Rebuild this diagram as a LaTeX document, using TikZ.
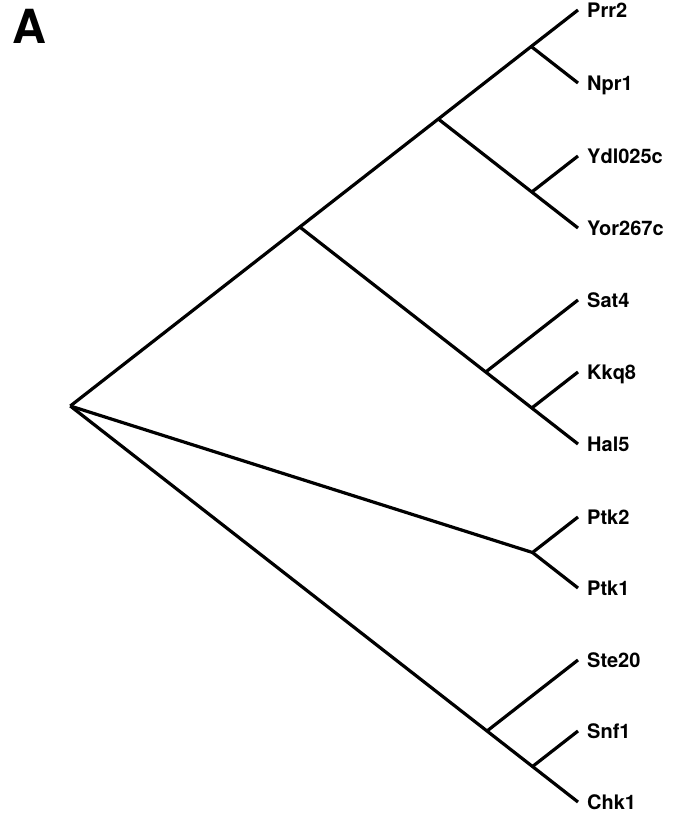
\documentclass[tikz,border=0pt]{standalone}
\usepackage{fontspec}
\setmainfont{TeX Gyre Heros}
\begin{document}
\begin{tikzpicture}[x=1pt, y=-1pt,
  branch/.style={line width=3.2pt, line join=round},
  taxon/.style={anchor=base west, inner sep=0pt,
    font=\fontsize{20}{20}\selectfont\bfseries},
  panel/.style={anchor=center, inner sep=0pt,
    font=\fontsize{47}{47}\selectfont\bfseries}]
\useasboundingbox (0,0) rectangle (676,817);

% panel letter
\node[panel] (panelA) at (29,26) {A};

% leaf tips
\coordinate (lPrr2)    at (578,10);
\coordinate (lNpr1)    at (578,83);
\coordinate (lYdl025c) at (578,156);
\coordinate (lYor267c) at (578,228);
\coordinate (lSat4)    at (578,300);
\coordinate (lKkq8)    at (578,372);
\coordinate (lHal5)    at (578,444);
\coordinate (lPtk2)    at (578,517);
\coordinate (lPtk1)    at (578,588);
\coordinate (lSte20)   at (578,660);
\coordinate (lSnf1)    at (578,731);
\coordinate (lChk1)    at (578,802);

% internal nodes
\coordinate (root)  at (70.3,406);
\coordinate (ntop)  at (299.8,227);
\coordinate (n1234) at (438.3,119);
\coordinate (n12)   at (531.2,46.5);
\coordinate (n34)   at (531.8,192);
\coordinate (n567)  at (485.7,372);
\coordinate (n67)   at (531.8,408);
\coordinate (nptk)  at (532.5,552.5);
\coordinate (nste)  at (487,731);
\coordinate (nsnf)  at (532.5,766.5);

% branches
\draw[branch] (root) -- (ntop) -- (n1234) -- (n12) -- (lPrr2);
\draw[branch] (n12) -- (lNpr1);
\draw[branch] (n1234) -- (n34) -- (lYor267c);
\draw[branch] (n34) -- (lYdl025c);
\draw[branch] (ntop) -- (n567) -- (n67) -- (lHal5);
\draw[branch] (n567) -- (lSat4);
\draw[branch] (n67) -- (lKkq8);
\draw[branch] (root) -- (nptk) -- (lPtk2);
\draw[branch] (nptk) -- (lPtk1);
\draw[branch] (root) -- (nste) -- (nsnf) -- (lChk1);
\draw[branch] (nste) -- (lSte20);
\draw[branch] (nsnf) -- (lSnf1);

% taxon labels
\foreach \name/\yy in {Prr2/10, Npr1/83, Ydl025c/156, Yor267c/228,
  Sat4/300, Kkq8/372, Hal5/444, Ptk2/517, Ptk1/588,
  Ste20/660, Snf1/731, Chk1/802}
  \node[taxon] (t\name) at (587,\yy+7.5) {\name};
\end{tikzpicture}
\end{document}
